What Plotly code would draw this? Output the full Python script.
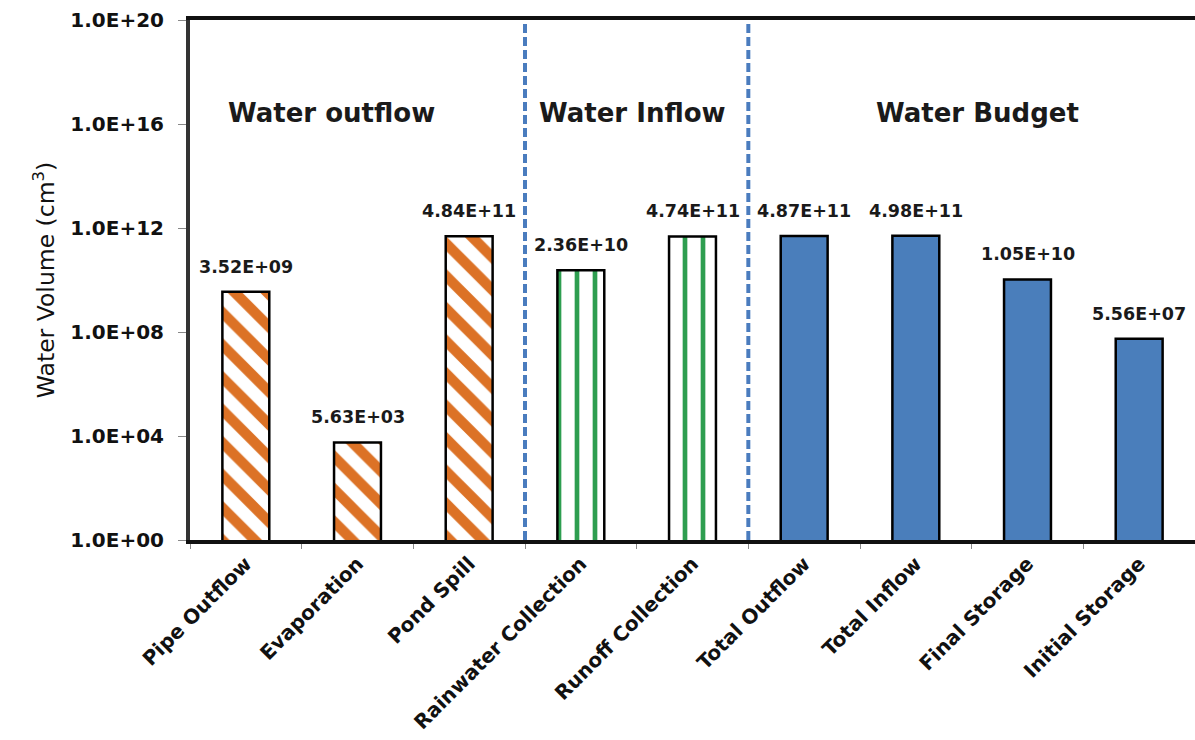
import plotly.graph_objects as go
import numpy as np

# Water balance components (cm^3)
categories = ["Pipe Outflow", "Evaporation", "Pond Spill",
              "Rainwater Collection", "Runoff Collection",
              "Total Outflow", "Total Inflow", "Final Storage", "Initial Storage"]
outflow_vals = [3.52e9, 5.63e3, 4.84e11]
inflow_vals = [2.36e10, 4.74e11]
budget_vals = [4.87e11, 4.98e11, 1.05e10, 5.56e7]

outflow_cats = categories[0:3]
inflow_cats = categories[3:5]
budget_cats = categories[5:9]

section_titles = ["Water outflow", "Water Inflow", "Water Budget"]
tick_exponents = [0, 4, 8, 12, 16, 20]

ORANGE = "#DC7226"
GREEN = "#2E9E50"
BLUE = "#4A7EBB"
BAR_W = 0.42
FONT = "DejaVu Sans"

fig = go.Figure()

fig.add_trace(go.Bar(
    x=outflow_cats, y=outflow_vals, width=BAR_W,
    marker=dict(color="white", line=dict(color="black", width=2.5),
                pattern=dict(shape="\\", fgcolor=ORANGE, bgcolor="white",
                             size=23, solidity=0.45, fillmode="replace")),
    showlegend=False,
))
fig.add_trace(go.Bar(
    x=inflow_cats, y=inflow_vals, width=BAR_W,
    marker=dict(color="white", line=dict(color="black", width=2.5),
                pattern=dict(shape="|", fgcolor=GREEN, bgcolor="white",
                             size=18, solidity=0.26, fillmode="replace")),
    showlegend=False,
))
fig.add_trace(go.Bar(
    x=budget_cats, y=budget_vals, width=BAR_W,
    marker=dict(color=BLUE, line=dict(color="black", width=2.5)),
    showlegend=False,
))

# value labels above each bar
annotations = []
for cats, vals in ((outflow_cats, outflow_vals), (inflow_cats, inflow_vals),
                   (budget_cats, budget_vals)):
    for c, v in zip(cats, vals):
        annotations.append(dict(
            x=c, y=np.log10(v), xref="x", yref="y",
            text=f"{v:.2E}", showarrow=False, yanchor="bottom", yshift=13,
            font=dict(family=FONT, size=17.5, color="#1a1a1a", weight="bold"),
        ))

# section headings
for title, xp in zip(section_titles, [0.141, 0.44, 0.784]):
    annotations.append(dict(
        x=xp, y=0.821, xref="paper", yref="paper", text=title,
        showarrow=False, xanchor="center", yanchor="middle",
        font=dict(family=FONT, size=26, color="#1a1a1a", weight="bold"),
    ))

# dashed separators between the groups
shapes = []
for xb in (2.5, 4.5):
    shapes.append(dict(
        type="line", xref="x", yref="paper", x0=xb, x1=xb, y0=0, y1=1,
        line=dict(color="#4A7CBE", width=4, dash="9px,4px"),
    ))

fig.update_layout(
    width=1195, height=740,
    margin=dict(l=190, r=0, t=20, b=200),
    paper_bgcolor="white", plot_bgcolor="white",
    bargap=0.58,
    annotations=annotations,
    shapes=shapes,
    xaxis=dict(
        categoryorder="array", categoryarray=categories,
        range=[-0.5, 8.5], automargin=False,
        showline=True, linecolor="#111111", linewidth=4, mirror=True,
        ticks="outside", tickson="boundaries", ticklen=5, tickcolor="#888888",
        tickangle=-45,
        tickfont=dict(family=FONT, size=20, color="#111111", weight="bold"),
        showgrid=False, zeroline=False,
    ),
    yaxis=dict(
        type="log", range=[0, 20], automargin=False,
        tickvals=[10.0 ** e for e in tick_exponents],
        ticktext=[f"1.0E+{e:02d}" for e in tick_exponents],
        showline=True, linecolor="#333333", linewidth=4, mirror=False,
        ticks="outside", ticklen=8, tickcolor="#888888",
        ticklabelstandoff=10,
        tickfont=dict(family=FONT, size=20, color="#111111", weight="bold"),
        showgrid=False, zeroline=False,
        title=dict(text="Water Volume (cm<sup>3</sup>)", standoff=10,
                   font=dict(family=FONT, size=23.5, color="#111111")),
    ),
)

fig.write_html("out.html")
